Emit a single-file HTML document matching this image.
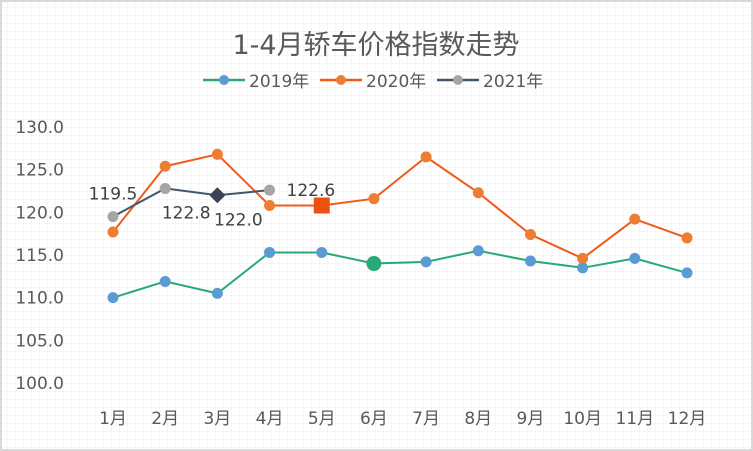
<!DOCTYPE html>
<html><head><meta charset="utf-8"><style>
html,body{margin:0;padding:0;background:#fff}
svg{display:block;font-family:"DejaVu Sans","Noto Sans CJK SC",sans-serif}
</style></head><body>
<svg width="753" height="451" viewBox="0 0 753 451">
<defs><pattern id="g" width="8" height="8" patternUnits="userSpaceOnUse"><path d="M8 0V8M0 8H8" stroke="#ececec" stroke-width="1" fill="none"/></pattern></defs>
<rect x="1" y="1" width="751" height="449" fill="#fff" stroke="#d9d9d9" stroke-width="2"/>
<rect x="2" y="2" width="749" height="447" fill="url(#g)"/>
<text x="376" y="54" text-anchor="middle" font-size="27" fill="#595959">1-4月轿车价格指数走势</text>
<g>
<g><line x1="203" y1="80" x2="245" y2="80" stroke="#2aa876" stroke-width="2.5"/><circle cx="224" cy="80" r="5" fill="#5b9bd5"/><text x="249" y="87" font-size="17" fill="#595959">2019年</text></g>
<g><line x1="320" y1="80" x2="362" y2="80" stroke="#f05a1a" stroke-width="2.5"/><circle cx="341" cy="80" r="5" fill="#ed7d31"/><text x="366" y="87" font-size="17" fill="#595959">2020年</text></g>
<g><line x1="437" y1="80" x2="479" y2="80" stroke="#44546a" stroke-width="2.5"/><circle cx="458" cy="80" r="5" fill="#a5a5a5"/><text x="483" y="87" font-size="17" fill="#595959">2021年</text></g>
</g>
<g id="yaxis"></g>
<g id="xaxis"></g>
<g id="series"></g>
</svg>
<script>
const categories=["1月","2月","3月","4月","5月","6月","7月","8月","9月","10月","11月","12月"];
const s2019=[110.0,111.9,110.5,115.3,115.3,114.0,114.2,115.5,114.3,113.5,114.6,112.9];
const s2020=[117.7,125.4,126.8,120.8,120.8,121.6,126.5,122.3,117.4,114.6,119.2,117.0];
const s2021=[119.5,122.8,122.0,122.6];
const yTicks=[100,105,110,115,120,125,130];
const labels2021=["119.5","122.8","122.0","122.6"];
const NS="http://www.w3.org/2000/svg";
const xS=i=>113+i*(687-113)/11;
const yS=v=>383-(v-100)*(256/30);
function mk(t,a,p){const e=document.createElementNS(NS,t);for(const k in a)e.setAttribute(k,a[k]);p.appendChild(e);return e;}
const ya=document.getElementById('yaxis'),xa=document.getElementById('xaxis'),sg=document.getElementById('series');
yTicks.forEach(v=>{const t=mk('text',{x:64,y:yS(v)+6,'text-anchor':'end','font-size':17,fill:'#595959'},ya);t.textContent=v.toFixed(1);

});
categories.forEach((c,i)=>{const t=mk('text',{x:xS(i),y:424,'text-anchor':'middle','font-size':17,fill:'#595959'},xa);t.textContent=c;

});
function series(data,line,mark,name){
const g=mk('g',{},sg);


const pl=mk('polyline',{points:data.map((v,i)=>xS(i)+','+yS(v)).join(' '),fill:'none',stroke:line,'stroke-width':2},g);


data.forEach((v,i)=>{const c=mk('circle',{cx:xS(i),cy:yS(v),r:5.5,fill:mark},g);

});
return g;}
const g19=series(s2019,'#2aa876','#5b9bd5','series-2019');
const g20=series(s2020,'#f05a1a','#ed7d31','series-2020');
const g21=series(s2021,'#44546a','#a5a5a5','series-2021');
const h1=mk('circle',{cx:xS(5),cy:yS(s2019[5]),r:7.5,fill:'#2aa876'},g19);


const h2=mk('rect',{x:xS(4)-8,y:yS(s2020[4])-8,width:16,height:16,fill:'#ee5010'},g20);


const dx=xS(2),dy=yS(s2021[2]);
const h3=mk('polygon',{points:`${dx},${dy-8} ${dx+8},${dy} ${dx},${dy+8} ${dx-8},${dy}`,fill:'#3b4454'},g21);


const offs=[[0,-17,'middle'],[21,30,'middle'],[21,30,'middle'],[17,6,'start']];
s2021.forEach((v,i)=>{const o=offs[i];const t=mk('text',{x:xS(i)+o[0],y:yS(v)+o[1],'text-anchor':o[2],'font-size':17,fill:'#404040'},g21);t.textContent=labels2021[i];

});
</script>
</body></html>
